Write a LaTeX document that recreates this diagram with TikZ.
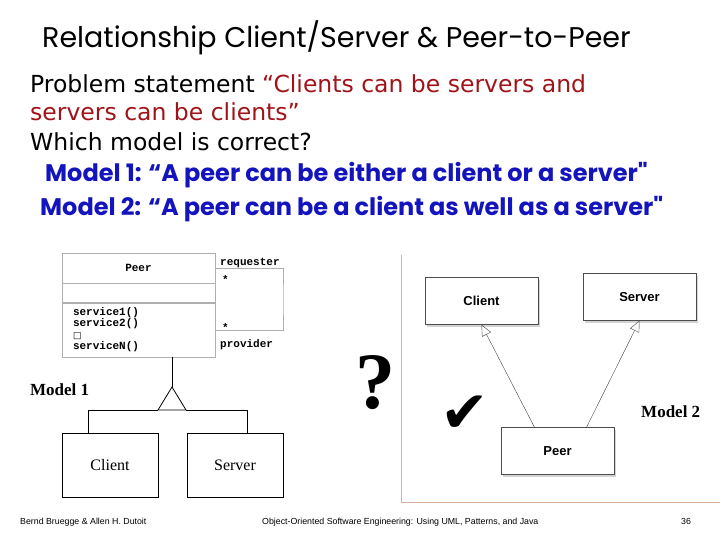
\documentclass[tikz,border=0pt]{standalone}
\usepackage{fontspec}
\usepackage{tikz}
\usetikzlibrary{arrows.meta,shadows}
\setmainfont{Liberation Serif}
\newfontfamily\titlefont{Poppins}
\newfontfamily\bodyfont{DejaVu Sans}
\newfontfamily\codefont{Liberation Mono}
\newfontfamily\umlfont{Liberation Sans}
\newfontfamily\symfont{DejaVu Sans}
\definecolor{stmtred}{RGB}{160,20,25}
\definecolor{modelblue}{RGB}{20,20,190}
\definecolor{framecol}{RGB}{215,175,155}
\definecolor{classgray}{RGB}{175,175,175}

\begin{document}
\begin{tikzpicture}[x=1pt,y=-1pt,
    txt/.style={anchor=base west,inner sep=0pt},
    classbox/.style={draw=classgray,fill=white,minimum width=153pt,inner sep=0pt},
    lbl/.style={anchor=base west,inner sep=0pt,font=\codefont\bfseries\fontsize{11}{11}\selectfont},
    plainbox/.style={draw,line width=0.8pt,minimum width=96pt,minimum height=64pt,
        font=\fontsize{16}{18}\selectfont},
    umlbox/.style={draw=black!70,fill=white,minimum width=113pt,minimum height=47pt,
        drop shadow={opacity=0.35,shadow xshift=2pt,shadow yshift=-2pt},
        font=\umlfont\bfseries\fontsize{13}{14}\selectfont},
    gen/.style={draw=black!75,-{Triangle[open,length=11pt,width=10pt]}}]
  \useasboundingbox (0,0) rectangle (720,540);
  % heading and problem statement
  \node[txt] (title) at (42,48) {\titlefont\fontsize{28.5}{30}\selectfont Relationship Client/Server \& Peer-to-Peer};
  \node[txt] (stmt1) at (30,93) {\bodyfont\fontsize{23.5}{26}\selectfont Problem statement \textcolor{stmtred}{“Clients can be servers and}};
  \node[txt] (stmt2) at (30,121) {\bodyfont\fontsize{23.5}{26}\selectfont\color{stmtred} servers can be clients”};
  \node[txt] (stmt3) at (30,151) {\bodyfont\fontsize{23.5}{26}\selectfont Which model is correct?};
  \node[txt] (model1txt) at (45,182) {\titlefont\bfseries\fontsize{24}{26}\selectfont\color{modelblue} Model 1: “A peer can be either a client or a server"};
  \node[txt] (model2txt) at (40,215) {\titlefont\bfseries\fontsize{24}{26}\selectfont\color{modelblue} Model 2: “A peer can be a client as well as a server"};
  % model 1
  \node[classbox,minimum height=30pt] (peer) at (138.5,268) {\codefont\bfseries\fontsize{11}{11}\selectfont Peer};
  \node[classbox,minimum height=19pt,anchor=north] (peerattr) at (peer.south) {};
  \node[classbox,minimum height=54pt,anchor=north,align=left,inner xsep=11pt,text width=131pt,
        font=\codefont\bfseries\fontsize{11}{11.5}\selectfont] (peerops) at (peerattr.south)
        {\raisebox{-3pt}{service1()}\\\raisebox{-3pt}{service2()}\\\raisebox{-3pt}{\symfont\mdseries\fontsize{9}{11}\selectfont □}\\\raisebox{-3pt}{serviceN()}};
  \coordinate (assocR) at (283,300);
  \draw[classgray] (peer.east) -| (assocR) |- (peerops.east);
  \node[lbl] (req) at (220,265) {requester};
  \node[lbl] (reqmult) at (222,283) {*};
  \node[lbl] (provmult) at (222,331) {*};
  \node[lbl] (prov) at (220,347) {provider};
  \node[plainbox] (client) at (110,465) {Client};
  \node[plainbox] (server) at (235,465) {Server};
  \coordinate (tip) at (172,387);
  \coordinate (triL) at (158,410);
  \coordinate (triR) at (186,410);
  \draw[line width=0.8pt] ([xshift=33.5]peerops.south) -- (tip);
  \draw[line width=0.8pt] (tip) -- (triL) -- (triR) -- cycle;
  \draw[line width=0.8pt] ([xshift=-22]client.north) |- (triL);
  \draw[line width=0.8pt] ([xshift=12]server.north) |- (triR);
  \node[txt] (model1) at (30,395) {\bfseries\fontsize{17}{19}\selectfont Model 1};
  \node (query) at (375,383) {\bfseries\fontsize{80}{80}\selectfont ?};
  % model 2
  \draw[framecol] (401,255) -- (401,502) -- (720,502);
  \node[umlbox] (client2) at (481.5,301) {Client};
  \node[umlbox] (server2) at (639.5,297) {Server};
  \node[umlbox] (peer2) at (557.5,451) {Peer};
  \draw[gen] ([xshift=-23]peer2.north) -- (client2.south);
  \draw[gen] ([xshift=29]peer2.north) -- (server2.south);
  \node (tick) at (465,414) {\symfont\fontsize{58}{58}\selectfont ✔};
  \node[txt] (model2) at (641,417) {\bfseries\fontsize{17}{19}\selectfont Model 2};
  % footer
  \node[txt] (authors) at (20,524) {\umlfont\fontsize{8.8}{9}\selectfont Bernd Bruegge \& Allen H. Dutoit};
  \node[txt] (book) at (262,524) {\umlfont\fontsize{8.8}{9}\selectfont Object-Oriented Software Engineering: Using UML, Patterns, and Java};
  \node[txt] (pagenum) at (681,524) {\umlfont\fontsize{8.8}{9}\selectfont 36};
\end{tikzpicture}
\end{document}
